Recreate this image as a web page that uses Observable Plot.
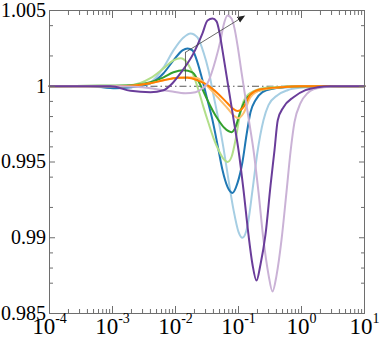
<!DOCTYPE html>
<html><head><meta charset="utf-8">
<script src="https://cdn.jsdelivr.net/npm/d3@7"></script>
<script src="https://cdn.jsdelivr.net/npm/@observablehq/plot@0.6"></script>
<style>html,body{margin:0;padding:0;background:#fff}#chart svg{display:block}</style>
</head><body><div id="chart"></div>
<script>
// ---- tick values / labels ----
const xMajor = [1e-4, 1e-3, 1e-2, 1e-1, 1, 10];
const xLabels = ["10^-4", "10^-3", "10^-2", "10^-1", "10^0", "10^1"];
const xMinorSteps = [2, 3, 4, 5, 6, 7, 8, 9];
const yMajor = [0.985, 0.99, 0.995, 1, 1.005];
const yLabels = ["0.985", "0.99", "0.995", "1", "1.005"];
const yMinor = [1.004, 1.002, 0.999, 0.998, 0.997, 0.996, 0.994, 0.992, 0.989, 0.988, 0.987];

// ---- series (x, y) ----
const lightBlue = [[1e-4,1],[3.73e-4,1],[9.3e-4,0.9999],[1.93e-3,0.99993],[4.0e-3,1.00026],[6.46e-3,1.00125],[9.29e-3,1.00237],[0.0134,1.00322],[0.0173,1.00349],[0.0223,1.00322],[0.0278,1.00224],[0.0334,1.00105],[0.0401,0.99941],[0.0482,0.99776],[0.0578,0.99592],[0.0694,0.99382],[0.0834,0.99184],[0.1,0.99039],[0.1156,0.99],[0.139,0.99079],[0.167,0.99316],[0.2,0.99566],[0.249,0.99776],[0.2993,0.99875],[0.416,0.99941],[0.6,0.99974],[0.964,0.9999],[2.0,0.99997],[4.2,1],[10,1]];
const darkBlue = [[1e-4,1],[4.48e-4,1],[1.12e-3,0.99987],[1.93e-3,0.99993],[4.0e-3,1.0002],[6.46e-3,1.00086],[9.29e-3,1.00171],[0.0129,1.00237],[0.0155,1.0025],[0.0186,1.00237],[0.0223,1.00158],[0.0268,1.00039],[0.0322,0.99908],[0.0387,0.99776],[0.0482,0.99579],[0.0557,0.99447],[0.0669,0.99336],[0.0803,0.99296],[0.0965,0.99362],[0.1156,0.995],[0.134,0.99678],[0.155,0.99829],[0.186,0.99908],[0.24,0.99961],[0.3466,0.99984],[0.557,0.99993],[1.39,1],[10,1]];
const lightGreen = [[1e-4,1],[6.5e-4,1.00003],[1.93e-3,1.00007],[4.0e-3,1.00053],[6.46e-3,1.00118],[9.29e-3,1.00171],[0.012,1.00184],[0.0155,1.00151],[0.0193,1.00072],[0.0232,0.99974],[0.0278,0.99862],[0.0334,0.99757],[0.0401,0.99658],[0.0482,0.99579],[0.0578,0.9952],[0.0669,0.995],[0.0774,0.99533],[0.0896,0.99645],[0.1038,0.99796],[0.12,0.99901],[0.144,0.99947],[0.173,0.99967],[0.223,0.99984],[0.322,0.99993],[0.557,0.99998],[0.964,1],[10,1]];
const darkGreen = [[1e-4,1],[6.5e-4,1.00003],[1.93e-3,1.00007],[4.0e-3,1.00026],[6.46e-3,1.00059],[9.29e-3,1.00092],[0.0134,1.00105],[0.0186,1.00092],[0.0223,1.00046],[0.0268,0.9998],[0.0322,0.99908],[0.0387,0.99842],[0.0482,0.99776],[0.06,0.99724],[0.0774,0.99697],[0.0896,0.9973],[0.1076,0.99836],[0.139,0.99928],[0.223,0.99974],[0.464,0.99993],[0.964,1],[10,1]];
const lightOrange = [[1e-4,1],[1.34e-3,1],[4.0e-3,1.0002],[6.46e-3,1.00039],[0.01076,1.00056],[0.0155,1.00059],[0.0223,1.00053],[0.0322,1],[0.0464,0.99928],[0.0669,0.99855],[0.0834,0.99809],[0.1,0.99789],[0.12,0.99822],[0.155,0.99928],[0.223,0.99974],[0.464,0.99993],[0.964,1],[10,1]];
const orange = [[1e-4,1],[1.34e-3,1],[4.0e-3,1.0002],[6.46e-3,1.00039],[0.01076,1.00056],[0.0155,1.00056],[0.0223,1.00039],[0.0322,1.00007],[0.0464,0.99954],[0.0669,0.99888],[0.0803,0.99855],[0.0965,0.99836],[0.12,0.99862],[0.155,0.99947],[0.223,0.9998],[0.464,0.99993],[0.964,1],[10,1]];
const lightPurple = [[1e-4,1],[1.34e-3,1],[4.0e-3,0.99987],[8.3e-3,0.99967],[0.0144,0.99954],[0.0208,0.99961],[0.0268,0.99987],[0.0322,1.0002],[0.0373,1.00086],[0.0431,1.00171],[0.0518,1.00303],[0.0578,1.00401],[0.0669,1.00467],[0.0774,1.00447],[0.0864,1.00382],[0.0965,1.0027],[0.1117,1.00092],[0.129,0.99921],[0.1496,0.9975],[0.173,0.99579],[0.2075,0.99303],[0.249,0.98987],[0.2993,0.98757],[0.3466,0.98645],[0.401,0.9875],[0.482,0.98987],[0.578,0.99303],[0.669,0.99566],[0.774,0.99763],[0.964,0.99888],[1.245,0.99954],[1.55,0.9998],[2.23,0.99993],[4.2,1],[10,1]];
const darkPurple = [[1e-4,1],[9.3e-4,1],[1.93e-3,0.9997],[4.0e-3,0.99961],[6.46e-3,0.99974],[8.95e-3,1.0002],[0.012,1.00086],[0.0193,1.00217],[0.0268,1.00349],[0.0322,1.00434],[0.0387,1.00447],[0.0448,1.00428],[0.0499,1.00355],[0.0557,1.00237],[0.0645,1.00072],[0.0746,0.99908],[0.0864,0.99743],[0.1,0.99579],[0.12,0.99316],[0.144,0.9902],[0.167,0.98822],[0.193,0.98717],[0.223,0.98822],[0.268,0.9902],[0.322,0.99342],[0.373,0.99579],[0.42,0.99776],[0.518,0.99862],[0.746,0.99928],[1.158,0.99974],[1.8,0.99993],[2.88,1],[10,1]];

// annotation: arrow and marker
const arrowSeg = [{x1: 0.0144, y1: 1.00224, x2: 0.12, y2: 1.0046}];
const markerSeg = [{x: 0.0144, y1: 1.0003, y2: 1.00224}];
const refLine = [1];

// ---- styles ----
const seriesList = [
  [lightBlue, "#a6cee3"], [darkBlue, "#1f78b4"],
  [lightGreen, "#b2df8a"], [darkGreen, "#33a02c"],
  [lightOrange, "#fdbf6f"], [orange, "#ff7f00"],
  [lightPurple, "#cab2d6"], [darkPurple, "#6a3d9a"]
];
const xMinor = xMajor.slice(0, -1).flatMap(m => xMinorSteps.map(s => m * s));
const axisGray = "#6e6e6e";

const chart = Plot.plot({
  width: 380, height: 338,
  marginLeft: 49, marginRight: 16, marginTop: 10, marginBottom: 25,
  style: {fontFamily: "'Liberation Serif','Times New Roman',serif", background: "#fff", color: "#000"},
  x: {type: "log", domain: [1e-4, 10]},
  y: {domain: [0.985, 1.005]},
  marks: [
    Plot.ruleY(refLine, {stroke: "#555", strokeWidth: 1, strokeDasharray: "7,3,1.5,3"}),
    ...seriesList.map(([d, c]) => Plot.line(d, {x: p => p[0], y: p => p[1], stroke: c, strokeWidth: 2, curve: "monotone-x"})),
    Plot.ruleX(markerSeg, {x: "x", y1: "y1", y2: "y2", stroke: "#444", strokeWidth: 0.8}),
    Plot.link(arrowSeg, {x1: "x1", y1: "y1", x2: "x2", y2: "y2", stroke: "#444", strokeWidth: 0.8, markerEnd: "arrow"}),
    Plot.frame({stroke: axisGray}),
    // ticks (inward)
    Plot.axisX({anchor: "bottom", ticks: xMajor, tickSize: -7, fill: "none", stroke: axisGray, label: null}),
    Plot.axisX({anchor: "top", ticks: xMajor, tickSize: -7, fill: "none", stroke: axisGray, label: null}),
    Plot.axisX({anchor: "bottom", ticks: xMinor, tickSize: -4, fill: "none", stroke: axisGray, label: null}),
    Plot.axisX({anchor: "top", ticks: xMinor, tickSize: -4, fill: "none", stroke: axisGray, label: null}),
    Plot.axisY({anchor: "left", ticks: yMajor, tickSize: -6, fill: "none", stroke: axisGray, label: null}),
    Plot.axisY({anchor: "right", ticks: yMajor, tickSize: -6, fill: "none", stroke: axisGray, label: null}),
    Plot.axisY({anchor: "left", ticks: yMinor, tickSize: -4, fill: "none", stroke: axisGray, label: null}),
    Plot.axisY({anchor: "right", ticks: yMinor, tickSize: -4, fill: "none", stroke: axisGray, label: null}),
    // labels
    Plot.axisX({anchor: "bottom", ticks: xMajor, tickSize: 0, tickPadding: 4, fontSize: 23, fill: "#000",
      tickFormat: d => xLabels[xMajor.indexOf(d)], label: null}),
    Plot.axisY({anchor: "left", ticks: yMajor, tickSize: 0, tickPadding: 3.5, fontSize: 20, fill: "#000",
      tickFormat: d => yLabels[yMajor.indexOf(d)], label: null})
  ]
});

// superscript exponents on x tick labels
d3.select(chart).selectAll('g[aria-label="x-axis tick label"] text').each(function () {
  const t = this.textContent;
  if (!t.includes("^")) return;
  const [base, exp] = t.split("^");
  const sel = d3.select(this);
  sel.text(null);
  sel.append("tspan").text(base);
  sel.append("tspan").attr("dy", -11).attr("font-size", 14).text(exp);
});
// filled arrow head
d3.select(chart).selectAll("marker")
  .attr("markerUnits", "userSpaceOnUse").attr("viewBox", "-6 -5 10 10")
  .attr("markerWidth", 10).attr("markerHeight", 10)
  .attr("fill", "#222").attr("stroke", "none")
  .selectAll("path").attr("d", "M-6,-3.2L2,0L-6,3.2Z").attr("fill", "#222").attr("stroke", "none");

document.getElementById("chart").appendChild(chart);
</script>
</body></html>
